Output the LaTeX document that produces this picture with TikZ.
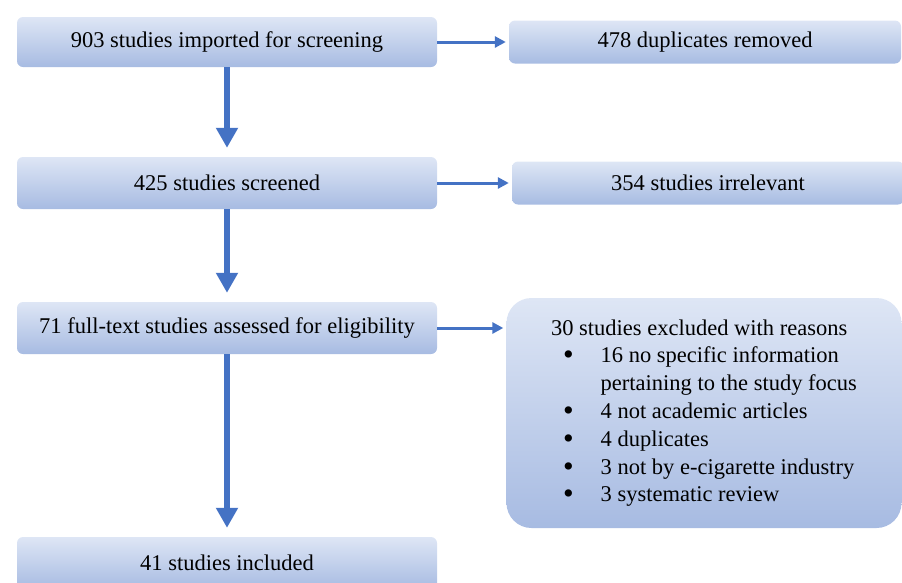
\documentclass[tikz,border=0pt]{standalone}
\usepackage{fontspec}
\setmainfont{Liberation Serif}
\usetikzlibrary{shapes,arrows.meta,positioning,calc}
\definecolor{arrowBlue}{RGB}{68,114,196}
\definecolor{boxTop}{RGB}{222,230,245}
\definecolor{boxBottom}{RGB}{167,187,226}
\newcommand{\reasonDot}{\raisebox{-2pt}{\scalebox{1.35}{\textbullet}}}

\begin{document}
\begin{tikzpicture}[x=1pt,y=1pt]

\tikzstyle{stage} = [rounded corners=6pt, top color=boxTop, bottom color=boxBottom, rectangle, minimum height=52pt, minimum width=420pt, inner sep=0pt, node distance=141pt, font={\fontsize{22.5}{27.8}\selectfont}]
\tikzstyle{sideStage} = [stage, minimum width=392pt, minimum height=43pt];
\tikzstyle{vArrow} = [arrowBlue, line width=6.5pt, -{Triangle[length=20pt,width=21pt]}, shorten >=9pt];
\tikzstyle{hArrow} = [arrowBlue, line width=3pt, -{Triangle[length=11pt,width=11pt]}, shorten >=3pt];

\useasboundingbox (0,0) rectangle (902,-582);

\node[stage, name=imported, minimum height=50pt] at (227,-42) {903 studies imported for screening};
\node[stage, name=screened, below of=imported] {425 studies screened};
\node[stage, name=fulltext, below of=screened, node distance=145pt] {71 full-text studies assessed for eligibility};
\node[stage, name=included, below of=fulltext, node distance=235pt] {41 studies included};

\node[sideStage, name=duplicates, right of=imported, node distance=478pt] {478 duplicates removed};
\node[sideStage, name=irrelevant, right of=screened, node distance=481pt] {354 studies irrelevant};
\node[stage, name=excluded, right of=fulltext, node distance=477pt, yshift=-85pt, minimum width=395pt, minimum height=230pt, rounded corners=25pt] {%
\begin{tabular}{@{\hspace{12pt}}c@{\hspace{27pt}}l@{}}
\multicolumn{2}{@{}l@{}}{30 studies excluded with reasons}\\
\reasonDot & 16 no specific information\\
 & pertaining to the study focus\\
\reasonDot & 4 not academic articles\\
\reasonDot & 4 duplicates\\
\reasonDot & 3 not by e-cigarette industry\\
\reasonDot & 3 systematic review
\end{tabular}};

\draw[vArrow] (imported) -- (imported |- screened.north);
\draw[vArrow] (screened) -- (screened |- fulltext.north);
\draw[vArrow] (fulltext) -- (fulltext |- included.north);
\draw[hArrow] (imported) -- (imported -| duplicates.west);
\draw[hArrow] (screened) -- (screened -| irrelevant.west);
\draw[hArrow] (fulltext) -- (fulltext -| excluded.west);
\end{tikzpicture}
\end{document}
